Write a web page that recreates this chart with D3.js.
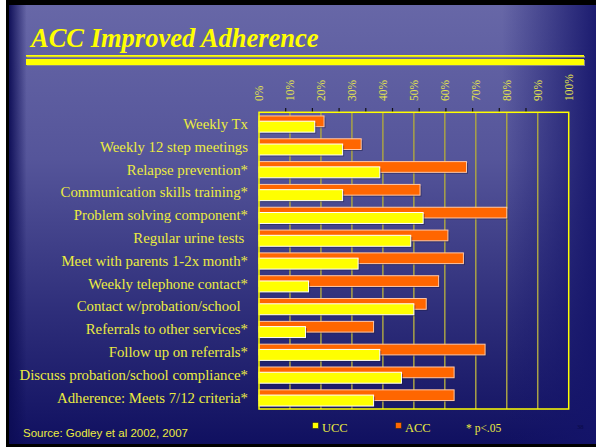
<!DOCTYPE html>
<html>
<head>
<meta charset="utf-8">
<script src="https://cdn.jsdelivr.net/npm/d3@7"></script>
<style>
  body { margin: 0; padding: 0; background: #ffffff; }
  svg { display: block; }
  .cat-label { white-space: pre; }
</style>
</head>
<body>
<div class="chart"></div>
<script>
// categories, top to bottom (trailing spaces as on the slide)
var categories = [
    "Weekly Tx",
    "Weekly 12 step meetings",
    "Relapse prevention*",
    "Communication skills training*",
    "Problem solving component*",
    "Regular urine tests ",
    "Meet with parents 1-2x month*",
    "Weekly telephone contact*",
    "Contact w/probation/school  ",
    "Referrals to other services*",
    "Follow up on referrals*",
    "Discuss probation/school compliance*",
    "Adherence: Meets 7/12 criteria*"
];
var accValues = [21, 33, 67, 52, 80, 61, 66, 58, 54, 37, 73, 63, 63];
var uccValues = [18, 27, 39, 27, 53, 49, 32, 16, 50, 15, 39, 46, 37];
var tickValues = [0, 10, 20, 30, 40, 50, 60, 70, 80, 90, 100];
var seriesNames = ["UCC", "ACC"];

var width = 596, height = 447;
var plot = {left: 259, right: 568.7, top: 112.3, bottom: 409};

var fillColor = d3.scaleOrdinal()
    .domain(seriesNames)
    .range(["#ffff00", "#ff6600"]);
var strokeColor = d3.scaleOrdinal()
    .domain(seriesNames)
    .range(["#ffffff", "#ffc8a8"]);

var svg = d3.select(".chart")
    .append("svg")
    .attr("width", width)
    .attr("height", height);

var defs = svg.append("defs");
var vGrad = defs.append("linearGradient")
    .attr("id", "vgrad").attr("x1", 0).attr("y1", 0).attr("x2", 0).attr("y2", 1);
vGrad.append("stop").attr("offset", "0%").attr("stop-color", "#6767a7");
vGrad.append("stop").attr("offset", "35%").attr("stop-color", "#55559a");
vGrad.append("stop").attr("offset", "70%").attr("stop-color", "#2e2e7a");
vGrad.append("stop").attr("offset", "100%").attr("stop-color", "#101060");
var hGrad = defs.append("linearGradient")
    .attr("id", "hgrad").attr("x1", 0).attr("y1", 0).attr("x2", 1).attr("y2", 0);
hGrad.append("stop").attr("offset", "0%").attr("stop-color", "#0c0c55").attr("stop-opacity", 0.95);
hGrad.append("stop").attr("offset", "3%").attr("stop-color", "#0c0c55").attr("stop-opacity", 0);
hGrad.append("stop").attr("offset", "84%").attr("stop-color", "#14146a").attr("stop-opacity", 0);
hGrad.append("stop").attr("offset", "100%").attr("stop-color", "#14146a").attr("stop-opacity", 0.9);

// slide frame + background
svg.append("rect").attr("x", 0).attr("y", 0).attr("width", 6).attr("height", height).attr("fill", "#ffffff");
svg.append("rect").attr("x", 6).attr("y", 0).attr("width", width - 6).attr("height", height).attr("fill", "#000000");
svg.append("rect").attr("x", 9).attr("y", 5).attr("width", width - 9).attr("height", 439).attr("fill", "url(#vgrad)");
svg.append("rect").attr("x", 9).attr("y", 5).attr("width", width - 9).attr("height", 439).attr("fill", "url(#hgrad)");

// title
svg.append("text")
    .attr("x", 31)
    .attr("y", 47)
    .attr("font-family", "Liberation Serif, Times New Roman, serif")
    .attr("font-weight", "bold")
    .attr("font-style", "italic")
    .attr("font-size", 26.5)
    .attr("fill", "#ffff00")
    .text("ACC Improved Adherence");

svg.append("rect").attr("x", 27).attr("y", 56).attr("width", 558).attr("height", 1.7).attr("fill", "#8a8a8a");
svg.append("rect").attr("x", 26).attr("y", 55).attr("width", 558).attr("height", 1.7).attr("fill", "#ffff00");
svg.append("rect").attr("x", 27).attr("y", 60).attr("width", 558).attr("height", 6).attr("fill", "#8a8a8a");
svg.append("rect").attr("x", 26).attr("y", 59).attr("width", 558).attr("height", 6).attr("fill", "#ffff00");

// scales
var x = d3.scaleLinear()
    .domain([0, 100])
    .range([plot.left, plot.right]);
// the little top tick marks in the original sit on a different spacing
var xTop = d3.scaleLinear()
    .domain([0, 116])
    .range([plot.left, plot.right]);
var y = d3.scaleBand()
    .domain(categories)
    .range([plot.top, plot.bottom]);
var bw = y.bandwidth();

// gridlines
svg.append("g")
    .selectAll("line")
    .data(tickValues.slice(1, -1))
    .enter()
    .append("line")
    .attr("x1", d => x(d)).attr("x2", d => x(d))
    .attr("y1", plot.top).attr("y2", plot.bottom)
    .attr("stroke", "#a9a246")
    .attr("stroke-width", 1.5);

// tick labels (rotated)
svg.append("g")
    .selectAll("text")
    .data(tickValues)
    .enter()
    .append("text")
    .attr("transform", d => "translate(" + x(d) + ",101) rotate(-90)")
    .attr("dy", "0.35em")
    .attr("font-family", "Liberation Serif, Times New Roman, serif")
    .attr("font-size", 11.5)
    .attr("fill", "#e4e44c")
    .text(d => d + "%");

// top tick marks
svg.append("g")
    .selectAll("line")
    .data(tickValues.slice(1))
    .enter()
    .append("line")
    .attr("x1", d => xTop(d)).attr("x2", d => xTop(d))
    .attr("y1", 108).attr("y2", plot.top)
    .attr("stroke", "#111111")
    .attr("stroke-width", 1.2);

// bars
var rows = categories.map(function(c, i) {
    return {name: c, ACC: accValues[i], UCC: uccValues[i]};
});

function drawSeries(key, offset, h) {
    var g = svg.append("g").attr("class", "series-" + key);
    g.selectAll(".shadow")
        .data(rows)
        .enter()
        .append("rect")
        .attr("class", "shadow")
        .attr("x", x(0) + 1.5)
        .attr("y", d => y(d.name) + offset * bw + 1.5)
        .attr("width", d => x(d[key]) - x(0))
        .attr("height", h * bw)
        .attr("fill", "#1a1a40")
        .attr("opacity", 0.45);
    g.selectAll(".bar")
        .data(rows)
        .enter()
        .append("rect")
        .attr("class", "bar")
        .attr("x", x(0))
        .attr("y", d => y(d.name) + offset * bw)
        .attr("width", d => x(d[key]) - x(0))
        .attr("height", h * bw)
        .attr("fill", fillColor(key))
        .attr("stroke", strokeColor(key))
        .attr("stroke-width", 1);
}
drawSeries("ACC", 0.16, 0.47);
drawSeries("UCC", 0.39, 0.48);

// plot border
svg.append("rect")
    .attr("x", plot.left).attr("y", plot.top)
    .attr("width", plot.right - plot.left)
    .attr("height", plot.bottom - plot.top)
    .attr("fill", "none")
    .attr("stroke", "#ffff00")
    .attr("stroke-width", 1.5);

// category labels
svg.append("g")
    .selectAll("text")
    .data(categories)
    .enter()
    .append("text")
    .attr("class", "cat-label")
    .attr("x", 248)
    .attr("y", d => y(d) + bw / 2)
    .attr("dy", "0.35em")
    .attr("text-anchor", "end")
    .attr("font-family", "Liberation Serif, Times New Roman, serif")
    .attr("font-size", 14.8)
    .attr("fill", "#ecec40")
    .text(d => d);

// legend
var legendX = {UCC: 312.5, ACC: 395.5};
for (let i = 0; i < seriesNames.length; i++) {
    var s = seriesNames[i];
    svg.append("rect")
        .attr("x", legendX[s]).attr("y", 422.5)
        .attr("width", 6).attr("height", 6)
        .attr("fill", fillColor(s))
        .attr("stroke", "#222222")
        .attr("stroke-width", 0.6);
    svg.append("text")
        .attr("x", legendX[s] + 9.5)
        .attr("y", 432)
        .attr("font-family", "Liberation Serif, Times New Roman, serif")
        .attr("font-size", 12.5)
        .attr("fill", "#ecec40")
        .text(s);
}
svg.append("text")
    .attr("x", 466).attr("y", 432)
    .attr("font-family", "Liberation Serif, Times New Roman, serif")
    .attr("font-size", 11.5)
    .attr("fill", "#ecec40")
    .text("* p<.05");

svg.append("text")
    .attr("x", 23).attr("y", 436.5)
    .attr("font-family", "Liberation Sans, Arial, sans-serif")
    .attr("font-size", 11.5)
    .attr("fill", "#ecec40")
    .text("Source: Godley et al 2002, 2007");

svg.append("text")
    .attr("x", 577).attr("y", 429)
    .attr("font-family", "Liberation Serif, Times New Roman, serif")
    .attr("font-size", 6.5)
    .attr("fill", "#0a0a44")
    .text("38");
</script>
</body>
</html>
